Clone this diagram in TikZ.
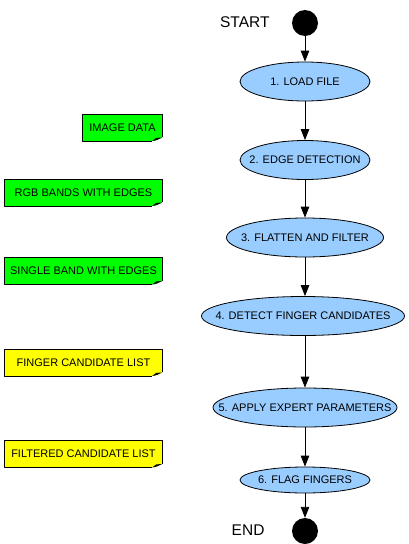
\documentclass[tikz,border=0pt]{standalone}
\usepackage{fontspec}
\setmainfont{Liberation Sans}
\usetikzlibrary{arrows.meta,backgrounds,shapes.geometric}
\definecolor{stepblue}{RGB}{153,204,255}
\definecolor{notegreen}{RGB}{0,255,0}
\definecolor{noteyellow}{RGB}{255,255,0}
\newcommand{\zw}[1]{\makebox[0pt]{#1}}
\tikzset{
  stepbox/.style={ellipse, draw=black, line width=0.8pt, fill=stepblue, inner sep=0pt,
    minimum height=39pt, font=\fontsize{11}{13}\selectfont},
  endpoint/.style={circle, fill=black, minimum size=26pt, inner sep=0pt},
  biglabel/.style={font=\fontsize{15.5}{18}\selectfont},
  notebox/.style={inner sep=0pt, minimum height=26.5pt, font=\fontsize{11}{13}\selectfont, text=black},
  flow/.style={line width=0.9pt, -{Triangle[length=11pt,width=8.5pt]}},
}
\newcommand{\notefold}[2]{%
  \fill[#2] (#1.north west) -- (#1.north east) -- ([yshift=3.5pt]#1.south east)
    .. controls ([xshift=-3pt,yshift=2pt]#1.south east) and ([xshift=-6pt]#1.south east) .. ([xshift=-10pt]#1.south east)
    -- (#1.south west) -- cycle;
  \draw[line width=0.8pt, line join=round] ([yshift=3.5pt]#1.south east) -- (#1.north east) -- (#1.north west) -- (#1.south west) -- ([xshift=-10pt]#1.south east);
  \fill[black] ([xshift=-10pt]#1.south east) .. controls ([xshift=-6pt,yshift=0.3pt]#1.south east) and ([xshift=-3pt,yshift=2pt]#1.south east) .. ([yshift=3.5pt]#1.south east)
    -- ([xshift=-6pt,yshift=3pt]#1.south east) -- cycle;
}
\begin{document}
\begin{tikzpicture}[x=1pt,y=-1pt]
\useasboundingbox (0,0) rectangle (409,544);
% flow
\node[endpoint] (start) at (305,23) {};
\node[biglabel, anchor=east] (startlbl) at (273,22) {START};
\node[stepbox, minimum width=130pt] (s1) at (305,81.5) {\zw{1. LOAD FILE}};
\node[stepbox, minimum width=130pt] (s2) at (305,160) {\zw{2. EDGE DETECTION}};
\node[stepbox, minimum width=157pt] (s3) at (305,237.5) {\zw{3. FLATTEN AND FILTER}};
\node[stepbox, minimum width=203pt] (s4) at (303,316) {\zw{4. DETECT FINGER CANDIDATES}};
\node[stepbox, minimum width=184pt] (s5) at (305,407.5) {\zw{5. APPLY EXPERT PARAMETERS}};
\node[stepbox, minimum width=130pt, minimum height=26pt] (s6) at (305,480) {\zw{6. FLAG FINGERS}};
\node[endpoint] (end) at (305,531) {};
\node[biglabel, anchor=east] (endlbl) at (268,530) {END};
\draw[flow] (start) -- (s1);
\draw[flow] (s1) -- (s2);
\draw[flow] (s2) -- (s3);
\draw[flow] (s3.south) -- (s4.north -| s3.south);
\draw[flow] (s4.south -| s5.north) -- (s5);
\draw[flow] (s5) -- (s6);
\draw[flow] (s6) -- (end);
% notes
\node[notebox, minimum width=79pt] (n1) at (122.5,127.5) {IMAGE DATA};
\node[notebox, minimum width=157pt] (n2) at (83.5,192.5) {RGB BANDS WITH EDGES};
\node[notebox, minimum width=157pt] (n3) at (83.5,271) {SINGLE BAND WITH EDGES};
\node[notebox, minimum width=157pt] (n4) at (83.5,362.5) {FINGER CANDIDATE LIST};
\node[notebox, minimum width=157pt] (n5) at (83.5,454) {FILTERED CANDIDATE LIST};
\begin{scope}[on background layer]
\notefold{n1}{notegreen}
\notefold{n2}{notegreen}
\notefold{n3}{notegreen}
\notefold{n4}{noteyellow}
\notefold{n5}{noteyellow}
\end{scope}
\end{tikzpicture}
\end{document}
